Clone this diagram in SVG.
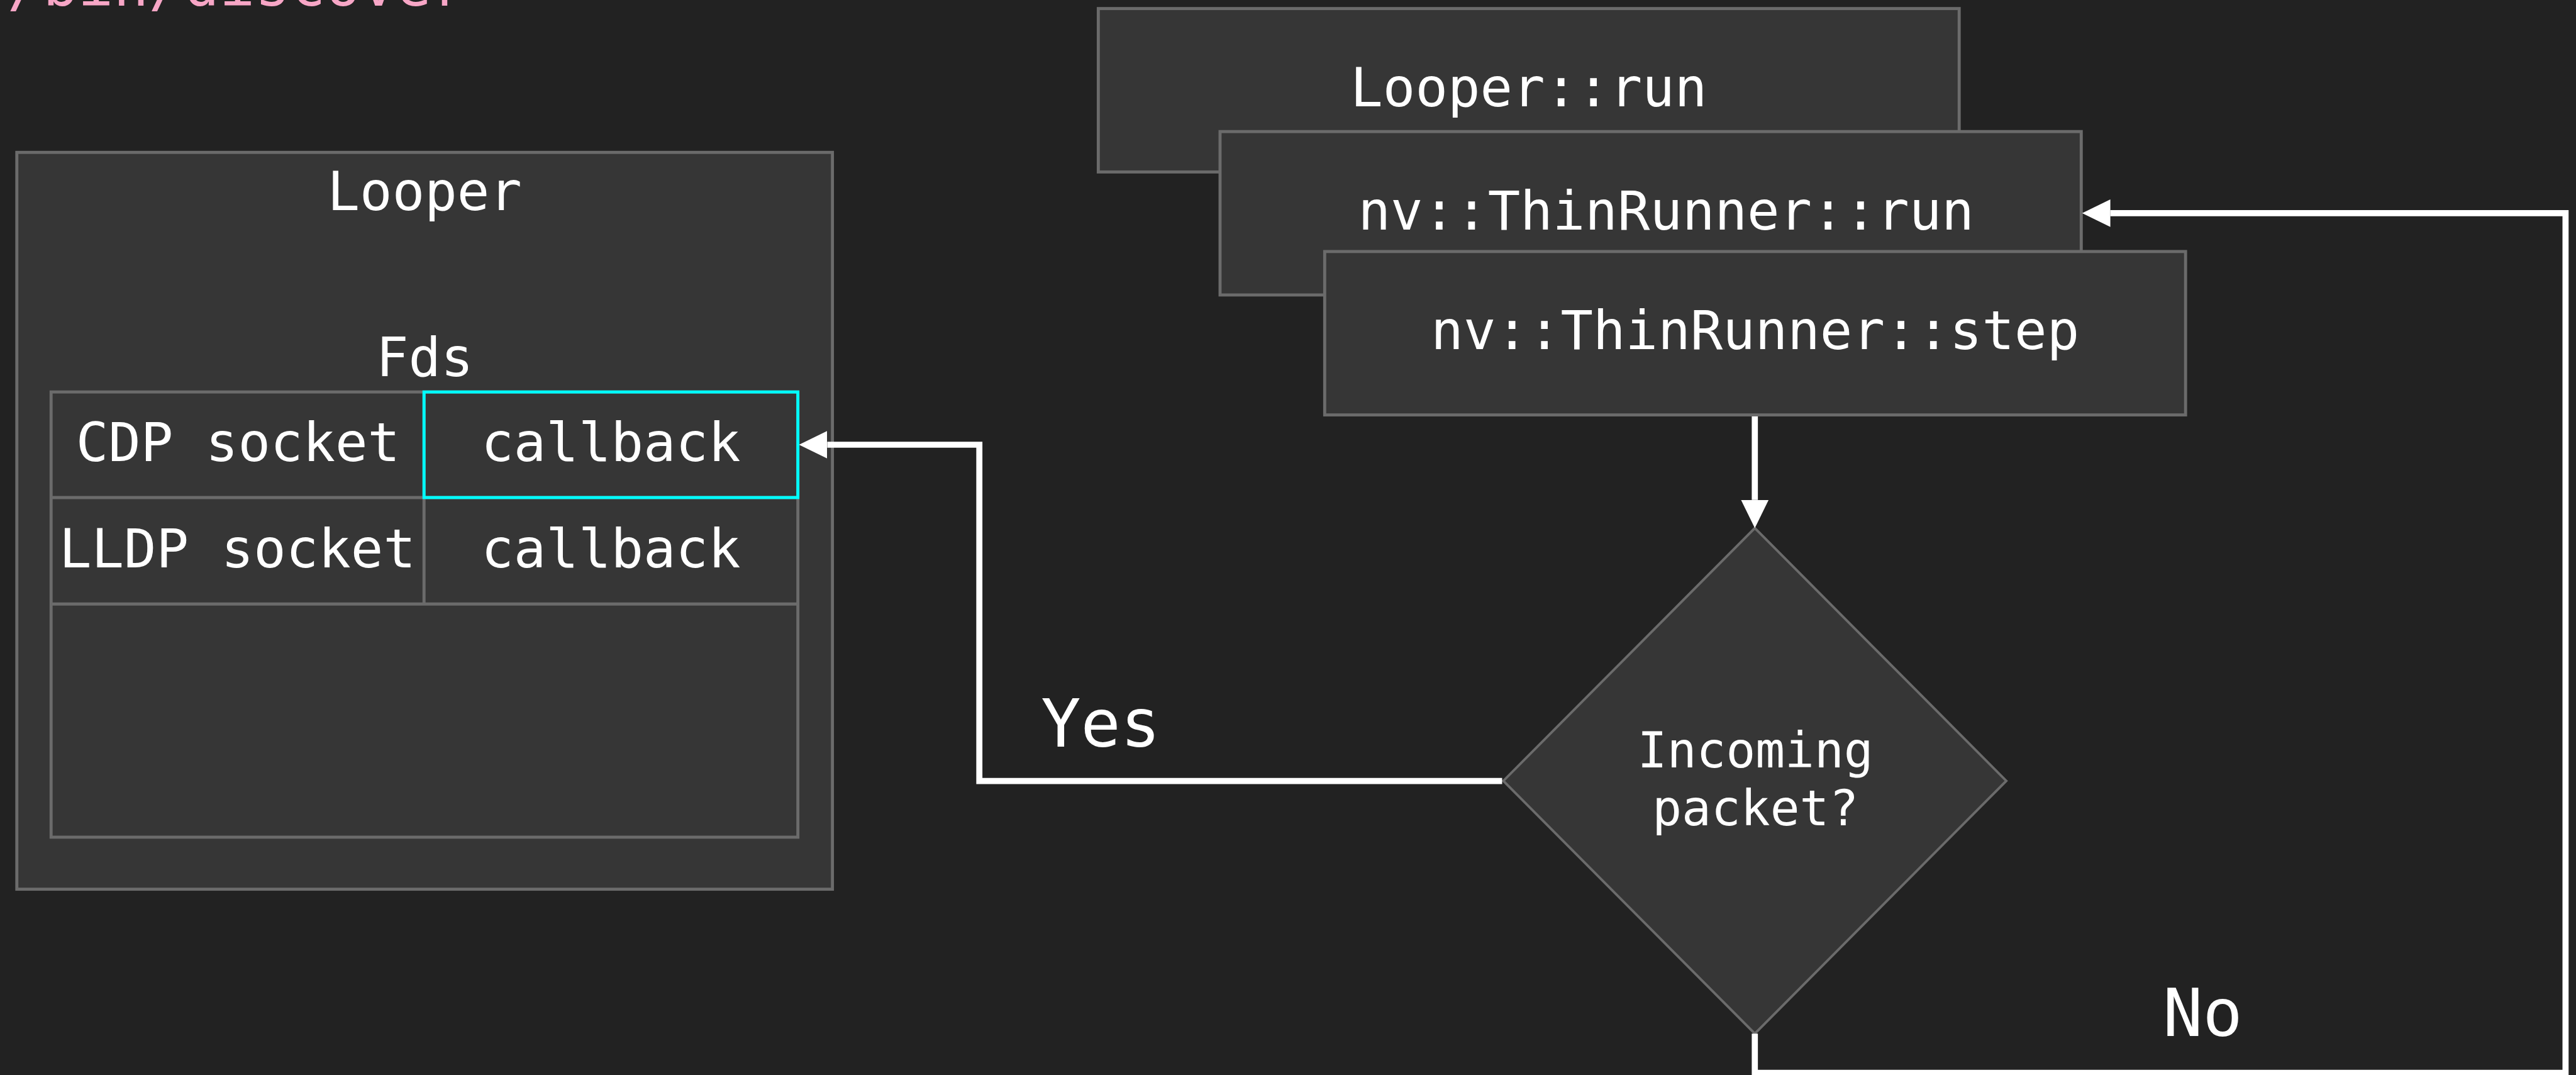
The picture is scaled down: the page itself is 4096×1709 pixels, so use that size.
<svg xmlns="http://www.w3.org/2000/svg" width="4096" height="1709" viewBox="0 0 4096 1709">
<style>
.box{fill:#363636;stroke:#6b6b6b;stroke-width:5}
.dia{fill:#363636;stroke:#6b6b6b;stroke-width:4}
.t{font-family:"DejaVu Sans Mono","Liberation Mono",monospace;fill:#ffffff;text-anchor:middle}
.m{font-size:88px}
.s{font-size:80px}
.l{font-size:108px}
.edge{fill:none;stroke:#ffffff;stroke-width:10;stroke-linejoin:miter}
</style>
<defs>
<marker id="arr" markerUnits="userSpaceOnUse" markerWidth="46" markerHeight="46" viewBox="0 0 45 44" refX="0" refY="22" orient="auto">
<path d="M0,0 L45,22 L0,44 Z" fill="#ffffff"/>
</marker>
</defs>
<rect x="0" y="0" width="4096" height="1709" fill="#222222"/>
<g transform="scale(0.9729)">
<text id="title" x="12" y="9" style="font-family:'DejaVu Sans Mono','Liberation Mono',monospace;font-size:96px;fill:#f7a6c6">/bin/discover</text>
<g id="looper">
<rect class="box" x="27.5" y="249" width="1333" height="1204"/>
<text class="t m" x="694" y="343">Looper</text>
<text class="t m" x="694" y="615">Fds</text>
</g>
<g id="fds-table">
<rect class="box" x="83.5" y="640.5" width="1220.5" height="727.5"/>
<line x1="83.5" y1="813" x2="1304" y2="813" stroke="#6b6b6b" stroke-width="5"/>
<line x1="83.5" y1="987" x2="1304" y2="987" stroke="#6b6b6b" stroke-width="5"/>
<line x1="693" y1="640.5" x2="693" y2="987" stroke="#6b6b6b" stroke-width="5"/>
</g>
<g id="cdp-socket"><text class="t m" x="389" y="753.5">CDP socket</text></g>
<g id="cdp-callback">
<rect x="693" y="640.5" width="611" height="172.5" fill="none" stroke="#00ffff" stroke-width="5"/>
<text class="t m" x="998.5" y="753.5">callback</text>
</g>
<g id="lldp-socket"><text class="t m" x="388" y="927">LLDP socket</text></g>
<g id="lldp-callback"><text class="t m" x="998.5" y="927">callback</text></g>
<g id="looper-run">
<rect class="box" x="1795" y="14" width="1407" height="267"/>
<text class="t m" x="2498.5" y="174">Looper::run</text>
</g>
<g id="thinrunner-run">
<rect class="box" x="1994" y="215" width="1407.5" height="267"/>
<text class="t m" x="2723" y="375">nv::ThinRunner::run</text>
</g>
<g id="thinrunner-step">
<rect class="box" x="2165" y="411" width="1407" height="267"/>
<text class="t m" x="2868.5" y="570.5">nv::ThinRunner::step</text>
</g>
<g id="incoming">
<polygon class="dia" points="2868,863 3279,1276 2868,1689 2457,1276"/>
<text class="t s" x="2869" y="1253.5">Incoming</text>
<text class="t s" x="2869" y="1349">packet?</text>
</g>
<g id="connectors">
<path class="edge" d="M2868,680.5 V817" marker-end="url(#arr)"/>
<path class="edge" d="M2455,1276.3 H1600.6 V726.7 H1352" marker-end="url(#arr)"/>
<path class="edge" d="M2868,1689 V1753 H4193 V348.3 H3449" marker-end="url(#arr)"/>
<text class="t l" x="1799" y="1220">Yes</text>
<text class="t l" x="3600" y="1693">No</text>
</g>
</g>
</svg>
